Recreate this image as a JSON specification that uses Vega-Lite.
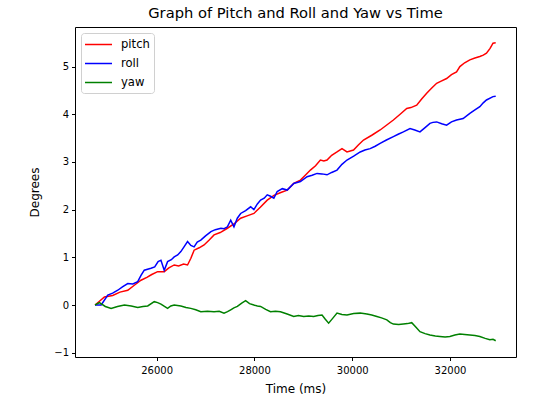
{
  "$schema": "https://vega.github.io/schema/vega-lite/v6.json",
  "width": 441,
  "height": 330,
  "autosize": {"type": "none"},
  "padding": {"left": 75, "top": 27, "right": 24, "bottom": 41},
  "background": "white",
  "title": {"text": "Graph of Pitch and Roll and Yaw vs Time", "fontSize": 14.7, "fontWeight": "normal", "font": "DejaVu Sans", "color": "#000", "offset": 6},
  "config": {
    "view": {"stroke": "#000", "strokeWidth": 1},
    "font": "DejaVu Sans",
    "axis": {"domain": false, "grid": false, "tickColor": "#000", "tickSize": 3.5, "labelColor": "#000", "labelFontSize": 10, "labelFont": "DejaVu Sans", "titleFont": "DejaVu Sans", "titleFontSize": 12, "titleFontWeight": "normal", "titleColor": "#000", "labelPadding": 3}
  },
  "data": {"values": [
    {"t":24740,"s":"pitch","v":0},{"t":24830,"s":"pitch","v":0.08},{"t":24932,"s":"pitch","v":0.17},{"t":25100,"s":"pitch","v":0.2},{"t":25250,"s":"pitch","v":0.27},{"t":25409,"s":"pitch","v":0.31},{"t":25550,"s":"pitch","v":0.42},{"t":25680,"s":"pitch","v":0.52},{"t":25800,"s":"pitch","v":0.58},{"t":25900,"s":"pitch","v":0.64},{"t":26020,"s":"pitch","v":0.7},{"t":26155,"s":"pitch","v":0.7},{"t":26250,"s":"pitch","v":0.78},{"t":26359,"s":"pitch","v":0.84},{"t":26450,"s":"pitch","v":0.82},{"t":26550,"s":"pitch","v":0.86},{"t":26632,"s":"pitch","v":0.84},{"t":26700,"s":"pitch","v":0.98},{"t":26766,"s":"pitch","v":1.15},{"t":26870,"s":"pitch","v":1.2},{"t":26970,"s":"pitch","v":1.26},{"t":27070,"s":"pitch","v":1.36},{"t":27174,"s":"pitch","v":1.47},{"t":27300,"s":"pitch","v":1.52},{"t":27447,"s":"pitch","v":1.61},{"t":27580,"s":"pitch","v":1.7},{"t":27718,"s":"pitch","v":1.82},{"t":27850,"s":"pitch","v":1.87},{"t":27989,"s":"pitch","v":1.92},{"t":28120,"s":"pitch","v":2.05},{"t":28262,"s":"pitch","v":2.2},{"t":28400,"s":"pitch","v":2.3},{"t":28540,"s":"pitch","v":2.36},{"t":28670,"s":"pitch","v":2.41},{"t":28804,"s":"pitch","v":2.55},{"t":28941,"s":"pitch","v":2.62},{"t":29040,"s":"pitch","v":2.72},{"t":29145,"s":"pitch","v":2.83},{"t":29250,"s":"pitch","v":2.92},{"t":29349,"s":"pitch","v":3.04},{"t":29420,"s":"pitch","v":3.02},{"t":29485,"s":"pitch","v":3.04},{"t":29580,"s":"pitch","v":3.14},{"t":29689,"s":"pitch","v":3.21},{"t":29791,"s":"pitch","v":3.28},{"t":29893,"s":"pitch","v":3.21},{"t":30027,"s":"pitch","v":3.25},{"t":30130,"s":"pitch","v":3.36},{"t":30231,"s":"pitch","v":3.46},{"t":30400,"s":"pitch","v":3.56},{"t":30571,"s":"pitch","v":3.67},{"t":30700,"s":"pitch","v":3.77},{"t":30842,"s":"pitch","v":3.88},{"t":30980,"s":"pitch","v":4.0},{"t":31115,"s":"pitch","v":4.12},{"t":31200,"s":"pitch","v":4.14},{"t":31319,"s":"pitch","v":4.19},{"t":31420,"s":"pitch","v":4.32},{"t":31523,"s":"pitch","v":4.44},{"t":31627,"s":"pitch","v":4.55},{"t":31727,"s":"pitch","v":4.65},{"t":31830,"s":"pitch","v":4.7},{"t":31931,"s":"pitch","v":4.75},{"t":32030,"s":"pitch","v":4.83},{"t":32134,"s":"pitch","v":4.89},{"t":32202,"s":"pitch","v":5.0},{"t":32300,"s":"pitch","v":5.08},{"t":32406,"s":"pitch","v":5.14},{"t":32510,"s":"pitch","v":5.18},{"t":32610,"s":"pitch","v":5.21},{"t":32680,"s":"pitch","v":5.24},{"t":32746,"s":"pitch","v":5.28},{"t":32820,"s":"pitch","v":5.38},{"t":32880,"s":"pitch","v":5.49},{"t":32935,"s":"pitch","v":5.5},
    {"t":24740,"s":"roll","v":0},{"t":24865,"s":"roll","v":0},{"t":25001,"s":"roll","v":0.21},{"t":25100,"s":"roll","v":0.25},{"t":25205,"s":"roll","v":0.31},{"t":25300,"s":"roll","v":0.38},{"t":25409,"s":"roll","v":0.45},{"t":25513,"s":"roll","v":0.44},{"t":25613,"s":"roll","v":0.49},{"t":25680,"s":"roll","v":0.62},{"t":25747,"s":"roll","v":0.73},{"t":25884,"s":"roll","v":0.77},{"t":25960,"s":"roll","v":0.8},{"t":26030,"s":"roll","v":0.91},{"t":26088,"s":"roll","v":0.94},{"t":26155,"s":"roll","v":0.73},{"t":26224,"s":"roll","v":0.91},{"t":26300,"s":"roll","v":0.95},{"t":26359,"s":"roll","v":1.01},{"t":26430,"s":"roll","v":1.05},{"t":26495,"s":"roll","v":1.12},{"t":26560,"s":"roll","v":1.22},{"t":26632,"s":"roll","v":1.33},{"t":26700,"s":"roll","v":1.25},{"t":26766,"s":"roll","v":1.22},{"t":26830,"s":"roll","v":1.32},{"t":26903,"s":"roll","v":1.36},{"t":27000,"s":"roll","v":1.45},{"t":27111,"s":"roll","v":1.54},{"t":27200,"s":"roll","v":1.58},{"t":27315,"s":"roll","v":1.61},{"t":27380,"s":"roll","v":1.6},{"t":27447,"s":"roll","v":1.64},{"t":27515,"s":"roll","v":1.78},{"t":27581,"s":"roll","v":1.64},{"t":27650,"s":"roll","v":1.82},{"t":27718,"s":"roll","v":1.92},{"t":27820,"s":"roll","v":1.98},{"t":27922,"s":"roll","v":2.06},{"t":27989,"s":"roll","v":2.0},{"t":28060,"s":"roll","v":2.12},{"t":28126,"s":"roll","v":2.2},{"t":28200,"s":"roll","v":2.24},{"t":28262,"s":"roll","v":2.31},{"t":28330,"s":"roll","v":2.28},{"t":28397,"s":"roll","v":2.24},{"t":28466,"s":"roll","v":2.38},{"t":28570,"s":"roll","v":2.44},{"t":28670,"s":"roll","v":2.41},{"t":28804,"s":"roll","v":2.55},{"t":28941,"s":"roll","v":2.59},{"t":29077,"s":"roll","v":2.69},{"t":29180,"s":"roll","v":2.72},{"t":29281,"s":"roll","v":2.76},{"t":29380,"s":"roll","v":2.75},{"t":29485,"s":"roll","v":2.73},{"t":29580,"s":"roll","v":2.78},{"t":29689,"s":"roll","v":2.83},{"t":29790,"s":"roll","v":2.95},{"t":29893,"s":"roll","v":3.04},{"t":30030,"s":"roll","v":3.12},{"t":30164,"s":"roll","v":3.21},{"t":30260,"s":"roll","v":3.25},{"t":30367,"s":"roll","v":3.28},{"t":30470,"s":"roll","v":3.33},{"t":30571,"s":"roll","v":3.39},{"t":30700,"s":"roll","v":3.46},{"t":30842,"s":"roll","v":3.53},{"t":30940,"s":"roll","v":3.58},{"t":31046,"s":"roll","v":3.63},{"t":31183,"s":"roll","v":3.7},{"t":31280,"s":"roll","v":3.67},{"t":31386,"s":"roll","v":3.63},{"t":31490,"s":"roll","v":3.72},{"t":31590,"s":"roll","v":3.81},{"t":31650,"s":"roll","v":3.83},{"t":31727,"s":"roll","v":3.84},{"t":31830,"s":"roll","v":3.8},{"t":31931,"s":"roll","v":3.77},{"t":32030,"s":"roll","v":3.84},{"t":32134,"s":"roll","v":3.88},{"t":32269,"s":"roll","v":3.91},{"t":32406,"s":"roll","v":4.02},{"t":32510,"s":"roll","v":4.09},{"t":32610,"s":"roll","v":4.16},{"t":32680,"s":"roll","v":4.24},{"t":32746,"s":"roll","v":4.3},{"t":32880,"s":"roll","v":4.37},{"t":32935,"s":"roll","v":4.38},
    {"t":24740,"s":"yaw","v":0},{"t":24830,"s":"yaw","v":0.05},{"t":24950,"s":"yaw","v":-0.03},{"t":25069,"s":"yaw","v":-0.07},{"t":25200,"s":"yaw","v":-0.03},{"t":25340,"s":"yaw","v":0},{"t":25480,"s":"yaw","v":-0.02},{"t":25613,"s":"yaw","v":-0.05},{"t":25720,"s":"yaw","v":-0.03},{"t":25817,"s":"yaw","v":-0.02},{"t":25951,"s":"yaw","v":0.07},{"t":26020,"s":"yaw","v":0.05},{"t":26088,"s":"yaw","v":0.02},{"t":26160,"s":"yaw","v":-0.03},{"t":26224,"s":"yaw","v":-0.07},{"t":26290,"s":"yaw","v":-0.02},{"t":26359,"s":"yaw","v":0},{"t":26495,"s":"yaw","v":-0.02},{"t":26600,"s":"yaw","v":-0.05},{"t":26699,"s":"yaw","v":-0.07},{"t":26800,"s":"yaw","v":-0.1},{"t":26903,"s":"yaw","v":-0.14},{"t":27040,"s":"yaw","v":-0.13},{"t":27174,"s":"yaw","v":-0.14},{"t":27280,"s":"yaw","v":-0.13},{"t":27378,"s":"yaw","v":-0.17},{"t":27450,"s":"yaw","v":-0.14},{"t":27515,"s":"yaw","v":-0.1},{"t":27580,"s":"yaw","v":-0.06},{"t":27651,"s":"yaw","v":-0.03},{"t":27740,"s":"yaw","v":0.04},{"t":27820,"s":"yaw","v":0.09},{"t":27900,"s":"yaw","v":0.03},{"t":27989,"s":"yaw","v":0},{"t":28060,"s":"yaw","v":-0.02},{"t":28126,"s":"yaw","v":-0.03},{"t":28230,"s":"yaw","v":-0.09},{"t":28329,"s":"yaw","v":-0.14},{"t":28430,"s":"yaw","v":-0.13},{"t":28533,"s":"yaw","v":-0.14},{"t":28670,"s":"yaw","v":-0.19},{"t":28804,"s":"yaw","v":-0.24},{"t":28900,"s":"yaw","v":-0.22},{"t":29008,"s":"yaw","v":-0.24},{"t":29110,"s":"yaw","v":-0.23},{"t":29212,"s":"yaw","v":-0.24},{"t":29300,"s":"yaw","v":-0.22},{"t":29383,"s":"yaw","v":-0.21},{"t":29450,"s":"yaw","v":-0.3},{"t":29518,"s":"yaw","v":-0.38},{"t":29600,"s":"yaw","v":-0.28},{"t":29689,"s":"yaw","v":-0.17},{"t":29790,"s":"yaw","v":-0.2},{"t":29893,"s":"yaw","v":-0.21},{"t":30030,"s":"yaw","v":-0.18},{"t":30164,"s":"yaw","v":-0.17},{"t":30300,"s":"yaw","v":-0.19},{"t":30400,"s":"yaw","v":-0.21},{"t":30504,"s":"yaw","v":-0.24},{"t":30600,"s":"yaw","v":-0.27},{"t":30708,"s":"yaw","v":-0.31},{"t":30780,"s":"yaw","v":-0.37},{"t":30842,"s":"yaw","v":-0.4},{"t":30950,"s":"yaw","v":-0.41},{"t":31046,"s":"yaw","v":-0.4},{"t":31130,"s":"yaw","v":-0.39},{"t":31217,"s":"yaw","v":-0.37},{"t":31300,"s":"yaw","v":-0.46},{"t":31386,"s":"yaw","v":-0.56},{"t":31490,"s":"yaw","v":-0.6},{"t":31590,"s":"yaw","v":-0.63},{"t":31700,"s":"yaw","v":-0.65},{"t":31794,"s":"yaw","v":-0.66},{"t":31900,"s":"yaw","v":-0.67},{"t":31998,"s":"yaw","v":-0.66},{"t":32100,"s":"yaw","v":-0.63},{"t":32202,"s":"yaw","v":-0.61},{"t":32300,"s":"yaw","v":-0.62},{"t":32406,"s":"yaw","v":-0.63},{"t":32510,"s":"yaw","v":-0.64},{"t":32610,"s":"yaw","v":-0.66},{"t":32720,"s":"yaw","v":-0.7},{"t":32814,"s":"yaw","v":-0.73},{"t":32880,"s":"yaw","v":-0.72},{"t":32935,"s":"yaw","v":-0.75}
  ]},
  "mark": {"type": "line", "strokeWidth": 1.5, "clip": true},
  "encoding": {
    "x": {"field": "t", "type": "quantitative", "title": "Time (ms)",
          "scale": {"domain": [24330, 33350], "nice": false, "zero": false},
          "axis": {"values": [26000, 28000, 30000, 32000], "format": "d", "labelPadding": 5, "titlePadding": 8}},
    "y": {"field": "v", "type": "quantitative", "title": "Degrees",
          "scale": {"domain": [-1.09, 5.83], "nice": false, "zero": false},
          "axis": {"values": [-1, 0, 1, 2, 3, 4, 5], "format": "d", "titlePadding": 12}},
    "color": {"field": "s", "type": "nominal",
              "scale": {"domain": ["pitch", "roll", "yaw"], "range": ["#ff0000", "#0000ff", "#008000"]},
              "legend": {"title": null, "orient": "none", "legendX": 6, "legendY": 6,
                         "symbolType": "M-2,0H2", "symbolStrokeWidth": 1.5, "symbolSize": 182, "symbolOffset": 6,
                         "labelFontSize": 11.6, "labelFont": "DejaVu Sans", "labelColor": "#000",
                         "rowPadding": 5, "padding": 4, "fillColor": "white", "strokeColor": "#d0d0d0",
                         "cornerRadius": 3, "labelOffset": 15}},
    "order": {"field": "t", "type": "quantitative"}
  }
}
